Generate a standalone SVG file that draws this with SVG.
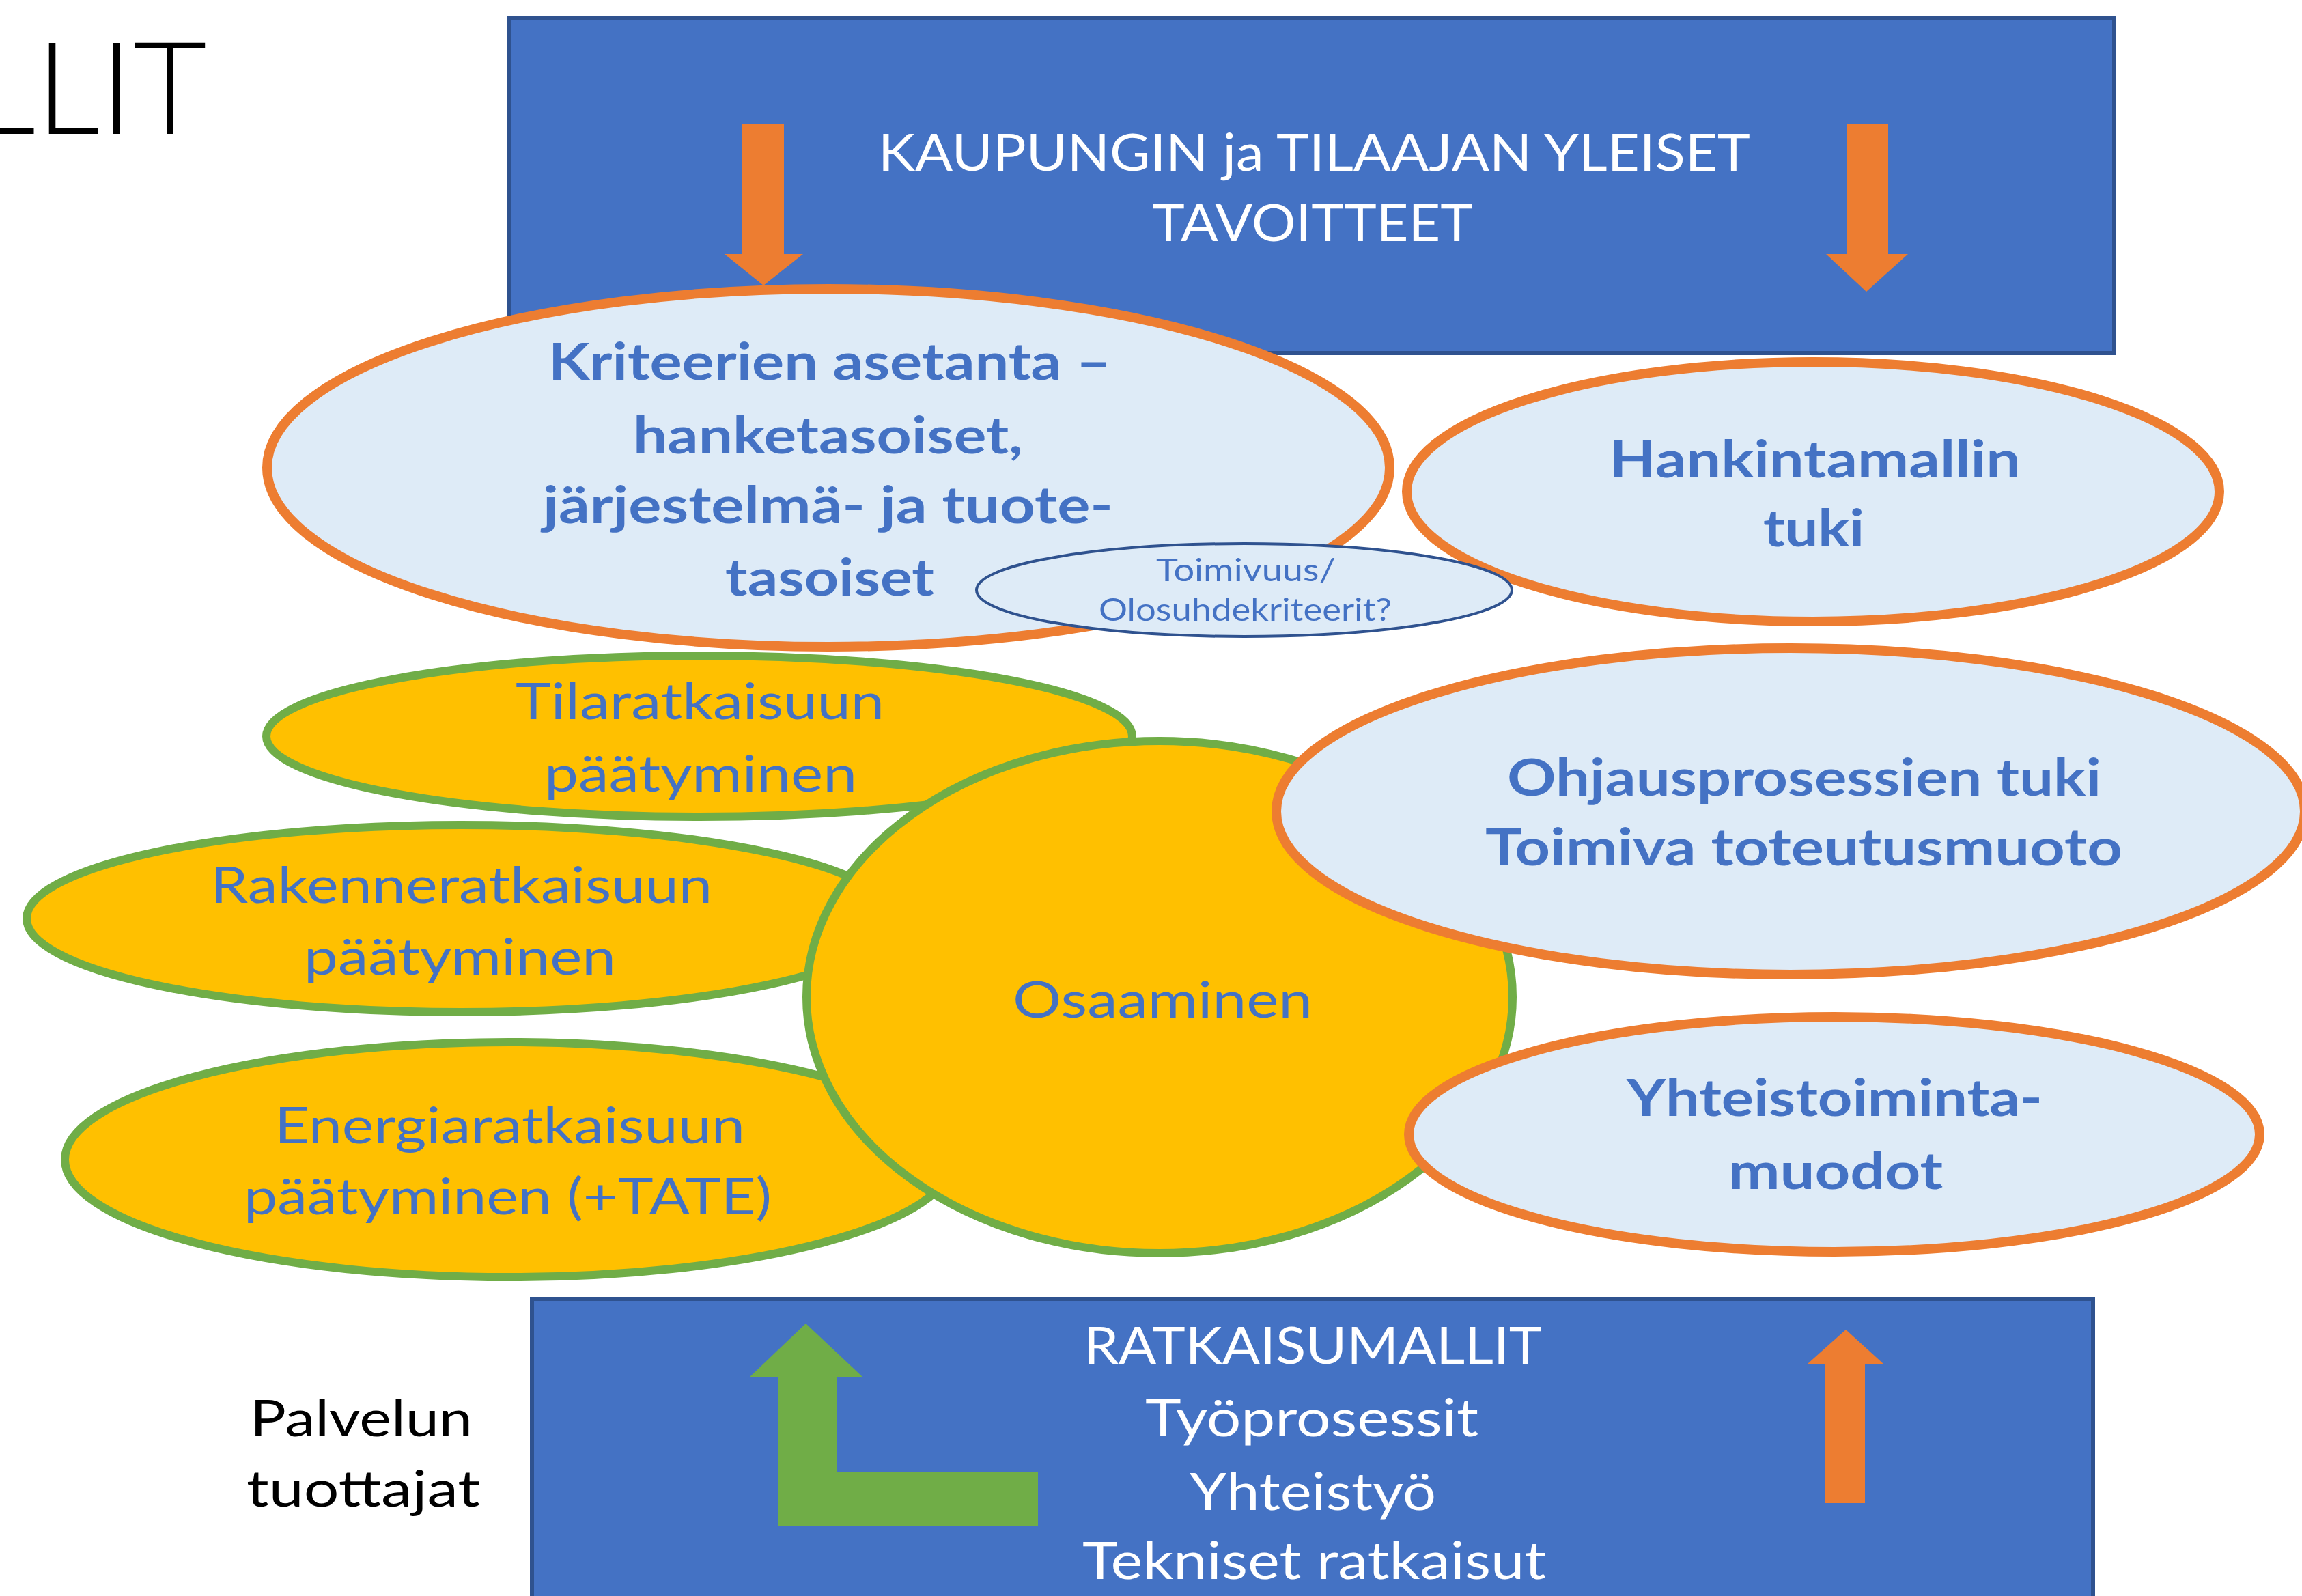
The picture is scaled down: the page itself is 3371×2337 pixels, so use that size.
<svg xmlns="http://www.w3.org/2000/svg" width="3371" height="2337" viewBox="0 0 3371 2337">
<style>
text{font-family:Lato,"Liberation Sans","DejaVu Sans",sans-serif;}
.box{fill:#4472C4;stroke:#2F528F;stroke-width:6;}
.blue{fill:#DEEBF7;stroke:#ED7D31;stroke-width:14;}
.yel{fill:#FFC000;stroke:#70AD47;stroke-width:12;}
.small{fill:#DEEBF7;stroke:#2F528F;stroke-width:4;}
.wt{fill:#FFFFFF;font-size:75px;}
.bt{fill:#4472C4;font-size:74px;font-weight:bold;}
.rt{fill:#4472C4;font-size:73px;}
.ot{fill:#ED7D31;stroke:none;}
.gt{fill:#70AD47;stroke:none;}
</style>
<rect width="3371" height="2337" fill="#FFFFFF"/>
<text x="-42" y="196" font-size="188" font-weight="300" fill="#000000" textLength="345" lengthAdjust="spacingAndGlyphs">LLIT</text>

<g id="top-box">
<rect class="box" x="746" y="27" width="2350" height="490"/>
<text class="wt" x="1286" y="250" textLength="1277" lengthAdjust="spacingAndGlyphs">KAUPUNGIN ja TILAAJAN YLEISET</text>
<text class="wt" x="1687" y="353" textLength="470" lengthAdjust="spacingAndGlyphs">TAVOITTEET</text>
</g>

<g id="connectors-top">
<polygon class="ot" points="1087,182 1148,182 1148,372 1176,372 1118,418 1061,372 1087,372"/>
<polygon class="ot" points="2704,182 2765,182 2765,372 2794,372 2733,427 2674,372 2704,372"/>
</g>

<g id="kriteerien">
<ellipse class="blue" cx="1213" cy="685" rx="822" ry="262"/>
<text class="bt" x="803" y="556" textLength="824" lengthAdjust="spacingAndGlyphs">Kriteerien asetanta –</text>
<text class="bt" x="927" y="664" textLength="571" lengthAdjust="spacingAndGlyphs">hanketasoiset,</text>
<text class="bt" x="795" y="766" textLength="835" lengthAdjust="spacingAndGlyphs">järjestelmä- ja tuote-</text>
<text class="bt" x="1062" y="872" textLength="306" lengthAdjust="spacingAndGlyphs">tasoiset</text>
</g>

<g id="hankintamallin">
<ellipse class="blue" cx="2655" cy="720" rx="595" ry="190"/>
<text class="bt" x="2356" y="699" font-size="78" textLength="603" lengthAdjust="spacingAndGlyphs">Hankintamallin</text>
<text class="bt" x="2582" y="800" font-size="78" textLength="148" lengthAdjust="spacingAndGlyphs">tuki</text>
</g>

<g id="toimivuus">
<ellipse class="small" cx="1822" cy="864" rx="392" ry="68"/>
<text x="1693" y="851" font-size="46" fill="#4472C4" textLength="263" lengthAdjust="spacingAndGlyphs">Toimivuus/</text>
<text x="1609" y="909" font-size="46" fill="#4472C4" textLength="429" lengthAdjust="spacingAndGlyphs">Olosuhdekriteerit?</text>
</g>

<g id="tilaratkaisuun">
<ellipse class="yel" cx="1024" cy="1078" rx="634" ry="118"/>
<text class="rt" x="755" y="1053" textLength="540" lengthAdjust="spacingAndGlyphs">Tilaratkaisuun</text>
<text class="rt" x="797" y="1159" textLength="458" lengthAdjust="spacingAndGlyphs">päätyminen</text>
</g>

<g id="rakenneratkaisuun">
<ellipse class="yel" cx="675" cy="1345" rx="636" ry="137"/>
<text class="rt" x="308" y="1322" textLength="735" lengthAdjust="spacingAndGlyphs">Rakenneratkaisuun</text>
<text class="rt" x="445" y="1427" textLength="457" lengthAdjust="spacingAndGlyphs">päätyminen</text>
</g>

<g id="energiaratkaisuun">
<ellipse class="yel" cx="745" cy="1698" rx="650" ry="172"/>
<text class="rt" x="402" y="1674" textLength="689" lengthAdjust="spacingAndGlyphs">Energiaratkaisuun</text>
<text class="rt" x="357" y="1778" textLength="773" lengthAdjust="spacingAndGlyphs">päätyminen (+TATE)</text>
</g>

<g id="osaaminen">
<ellipse class="yel" cx="1698" cy="1460" rx="517" ry="375"/>
<text class="rt" x="1483" y="1490" font-size="75" textLength="439" lengthAdjust="spacingAndGlyphs">Osaaminen</text>
</g>

<g id="ohjausprosessien">
<ellipse class="blue" cx="2622" cy="1188" rx="753" ry="239"/>
<text class="bt" x="2207" y="1165" font-size="72" textLength="870" lengthAdjust="spacingAndGlyphs">Ohjausprosessien tuki</text>
<text class="bt" x="2175" y="1267" font-size="72" textLength="933" lengthAdjust="spacingAndGlyphs">Toimiva toteutusmuoto</text>
</g>

<g id="yhteistoiminta">
<ellipse class="blue" cx="2686" cy="1661" rx="623" ry="172"/>
<text class="bt" x="2382" y="1634" font-size="75" textLength="609" lengthAdjust="spacingAndGlyphs">Yhteistoiminta-</text>
<text class="bt" x="2531" y="1741" font-size="75" textLength="314" lengthAdjust="spacingAndGlyphs">muodot</text>
</g>

<g id="bottom-box">
<rect class="box" x="779" y="1902" width="2286" height="470"/>
<text class="wt" x="1587" y="1997" font-size="76" textLength="671" lengthAdjust="spacingAndGlyphs">RATKAISUMALLIT</text>
<text class="wt" x="1677" y="2103" font-size="76" textLength="488" lengthAdjust="spacingAndGlyphs">Työprosessit</text>
<text class="wt" x="1742" y="2211" font-size="76" textLength="361" lengthAdjust="spacingAndGlyphs">Yhteistyö</text>
<text class="wt" x="1585" y="2312" font-size="76" textLength="679" lengthAdjust="spacingAndGlyphs">Tekniset ratkaisut</text>
</g>

<g id="connectors-bottom">
<polygon class="gt" points="1180,1938 1264,2017 1226,2017 1226,2156 1520,2156 1520,2235 1140,2235 1140,2017 1097,2017"/>
<polygon class="ot" points="2703,1947 2758,1997 2731,1997 2731,2201 2672,2201 2672,1997 2647,1997"/>
</g>

<g id="palvelun-tuottajat">
<text x="366" y="2103" font-size="74" fill="#000000" textLength="326" lengthAdjust="spacingAndGlyphs">Palvelun</text>
<text x="361" y="2206" font-size="74" fill="#000000" textLength="342" lengthAdjust="spacingAndGlyphs">tuottajat</text>
</g>
</svg>
